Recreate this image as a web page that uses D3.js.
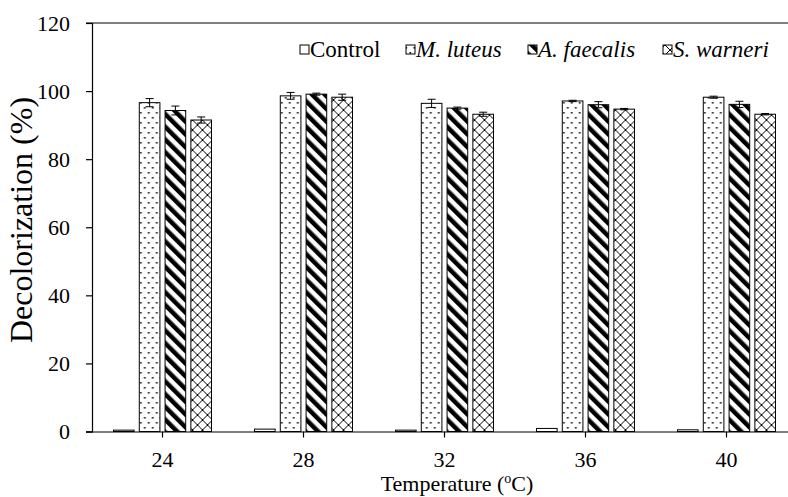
<!DOCTYPE html>
<html>
<head>
<meta charset="utf-8">
<script src="https://cdn.jsdelivr.net/npm/d3@7"></script>
<style>
  body { margin: 0; background: #fff; }
</style>
</head>
<body>
<script>
// Chart size
const width = 788;
const height = 497;
const serif = 'Liberation Serif';

// Data
const categories = ['24', '28', '32', '36', '40'];
const seriesNames = ['Control', 'M. luteus', 'A. faecalis', 'S. warneri'];
const control = [0.4, 0.7, 0.4, 0.9, 0.5];
const mLuteus = [96.6, 98.6, 96.4, 97.1, 98.2];
const aFaecalis = [94.3, 99.1, 95.0, 96.0, 96.1];
const sWarneri = [91.5, 98.2, 93.2, 94.7, 93.2];
const controlErr = [0, 0, 0, 0, 0];
const mLuteusErr = [1.2, 1.0, 1.2, 0.2, 0.3];
const aFaecalisErr = [1.3, 0.3, 0.3, 0.9, 0.9];
const sWarneriErr = [0.9, 0.9, 0.6, 0.2, 0.2];
const yTicks = [0, 20, 40, 60, 80, 100, 120];

const seriesValues = [control, mLuteus, aFaecalis, sWarneri];
const seriesErrors = [controlErr, mLuteusErr, aFaecalisErr, sWarneriErr];

// Plot area
const plotLeft = 92;
const plotTop = 23;
const plotBottom = 431.5;

const svg = d3.select('body')
  .append('svg')
  .attr('width', width)
  .attr('height', height)
  .attr('font-family', serif);

// Put text content in a tspan so the serif face is used
function serifText(sel) {
  sel.each(function () {
    const t = d3.select(this);
    const s = t.text();
    t.text(null).attr('font-family', serif);
    t.append('tspan').attr('font-family', serif).text(s);
  });
}

// Patterns
const defs = svg.append('defs');

const dots = defs.append('pattern')
  .attr('id', 'dots')
  .attr('patternUnits', 'userSpaceOnUse')
  .attr('width', 8)
  .attr('height', 10);
dots.append('rect').attr('width', 8).attr('height', 10).attr('fill', '#fff');
dots.append('rect').attr('x', 1.5).attr('y', 2).attr('width', 1.6).attr('height', 1.6).attr('fill', '#000');
dots.append('rect').attr('x', 5.5).attr('y', 7).attr('width', 1.6).attr('height', 1.6).attr('fill', '#000');

const stripes = defs.append('pattern')
  .attr('id', 'stripes')
  .attr('patternUnits', 'userSpaceOnUse')
  .attr('width', 9)
  .attr('height', 9)
  .attr('patternTransform', 'rotate(-45)');
stripes.append('rect').attr('width', 9).attr('height', 9).attr('fill', '#fff');
stripes.append('rect').attr('width', 4.5).attr('height', 9).attr('fill', '#000');

const cross = defs.append('pattern')
  .attr('id', 'cross')
  .attr('patternUnits', 'userSpaceOnUse')
  .attr('width', 10)
  .attr('height', 10);
cross.append('rect').attr('width', 10).attr('height', 10).attr('fill', '#fff');
cross.append('path').attr('d', 'M0,0L10,10M10,0L0,10').attr('stroke', '#000').attr('stroke-width', 1);

const fills = ['#fff', 'url(#dots)', 'url(#stripes)', 'url(#cross)'];

// Scales
const x0 = d3.scaleBand()
  .domain(categories)
  .range([plotLeft, plotLeft + 141 * categories.length])
  .padding(0);

const x1 = d3.scaleBand()
  .domain(seriesNames)
  .range([-49, 49])
  .paddingInner(0.2);

const y = d3.scaleLinear()
  .domain([0, 120])
  .range([plotBottom, plotTop]);

// Top border line at 120
svg.append('line')
  .attr('x1', plotLeft - 6)
  .attr('x2', width)
  .attr('y1', y(120))
  .attr('y2', y(120))
  .attr('stroke', '#000')
  .attr('stroke-width', 1.2);

// Y axis
const yAxis = svg.append('g')
  .attr('transform', `translate(${plotLeft},0)`)
  .call(d3.axisLeft(y).tickValues(yTicks).tickSize(6).tickPadding(16));
yAxis.attr('font-family', serif).attr('font-size', 22);
yAxis.selectAll('text').attr('fill', '#000').call(serifText);
yAxis.selectAll('line, path').attr('stroke', '#000').attr('stroke-width', 1.2);

// Bars
const groups = svg.append('g')
  .selectAll('g')
  .data(categories)
  .join('g')
  .attr('transform', d => `translate(${x0(d) + x0.bandwidth() / 2},0)`);

groups.selectAll('rect')
  .data((d, i) => seriesNames.map((s, j) => ({ s, j, v: seriesValues[j][i], e: seriesErrors[j][i] })))
  .join('rect')
  .attr('x', d => x1(d.s))
  .attr('y', d => y(d.v))
  .attr('width', x1.bandwidth())
  .attr('height', d => y(0) - y(d.v))
  .attr('fill', d => fills[d.j])
  .attr('stroke', '#000')
  .attr('stroke-width', 1);

// Error bars
const errs = groups.selectAll('g.err')
  .data((d, i) => seriesNames.map((s, j) => ({ s, v: seriesValues[j][i], e: seriesErrors[j][i] })).filter(d => d.e > 0))
  .join('g')
  .attr('class', 'err')
  .attr('transform', d => `translate(${x1(d.s) + x1.bandwidth() / 2},0)`);

errs.append('line')
  .attr('y1', d => y(d.v - d.e))
  .attr('y2', d => y(d.v + d.e))
  .attr('stroke', '#000');
errs.append('line')
  .attr('x1', -4).attr('x2', 4)
  .attr('y1', d => y(d.v + d.e))
  .attr('y2', d => y(d.v + d.e))
  .attr('stroke', '#000');
errs.append('line')
  .attr('x1', -4).attr('x2', 4)
  .attr('y1', d => y(d.v - d.e))
  .attr('y2', d => y(d.v - d.e))
  .attr('stroke', '#000');

// X axis
const xAxis = svg.append('g')
  .attr('transform', `translate(0,${plotBottom})`)
  .call(d3.axisBottom(x0).tickSize(6).tickPadding(14));
xAxis.attr('font-family', serif).attr('font-size', 22);
xAxis.select('.domain').attr('d', `M${plotLeft - 6},0.5H${width}`);
xAxis.selectAll('text').attr('fill', '#000').call(serifText);
xAxis.selectAll('line, path').attr('stroke', '#000').attr('stroke-width', 1.2);

// Axis titles
const xTitle = svg.append('text')
  .attr('x', 457)
  .attr('y', 491)
  .attr('text-anchor', 'middle')
  .attr('font-family', serif)
  .attr('font-size', 22);
xTitle.append('tspan').text('Temperature (');
xTitle.append('tspan').text('o').attr('font-size', 14).attr('dy', -8);
xTitle.append('tspan').text('C)').attr('dy', 8);

svg.append('text')
  .attr('transform', 'translate(32,220) rotate(-90)')
  .attr('text-anchor', 'middle')
  .attr('font-size', 32)
  .text('Decolorization (%)')
  .call(serifText);

// Legend
const legendItems = [
  { name: 'Control', italic: false, x: 300 },
  { name: 'M. luteus', italic: true, x: 406 },
  { name: 'A. faecalis', italic: true, x: 528 },
  { name: 'S. warneri', italic: true, x: 663 }
];

const legend = svg.append('g');
legend.selectAll('rect')
  .data(legendItems)
  .join('rect')
  .attr('x', d => d.x)
  .attr('y', 45)
  .attr('width', 9)
  .attr('height', 9)
  .attr('fill', (d, i) => fills[i])
  .attr('stroke', '#000');

legend.selectAll('text')
  .data(legendItems)
  .join('text')
  .attr('x', d => d.x + 10)
  .attr('y', 57)
  .attr('font-size', 23)
  .attr('font-style', d => d.italic ? 'italic' : 'normal')
  .text(d => d.name)
  .call(serifText);
</script>
</body>
</html>
